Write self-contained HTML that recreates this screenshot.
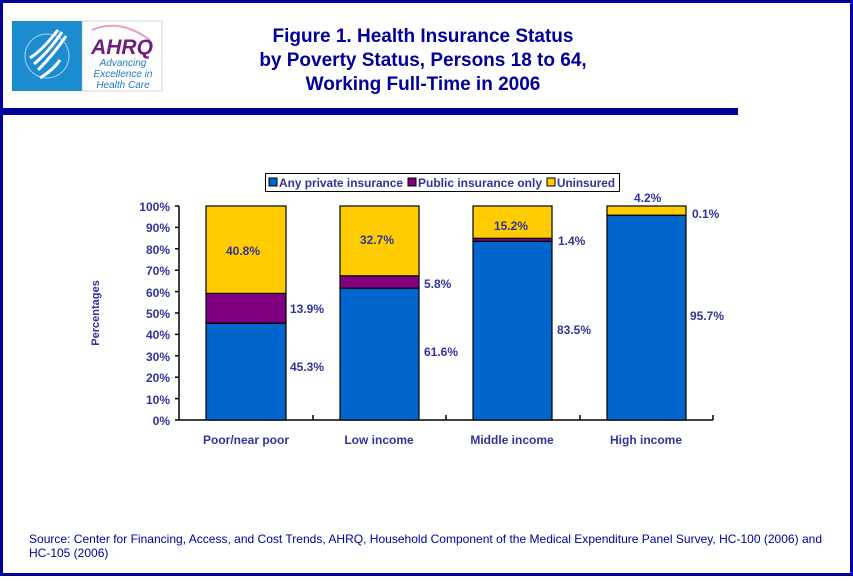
<!DOCTYPE html>
<html><head><style>
body{margin:0;width:853px;height:576px;overflow:hidden;background:#fff;font-family:"Liberation Sans",Arial,sans-serif}
</style></head><body>
<svg width="853" height="576" xmlns="http://www.w3.org/2000/svg" font-family="Liberation Sans, Arial, sans-serif">
<rect x="1.5" y="1.5" width="850" height="573" fill="#fff" stroke="#0000A0" stroke-width="3"/>
<rect x="3" y="108" width="735" height="7" fill="#0000A0"/>
<rect x="12" y="21" width="70" height="70" fill="#1C8CD0"/>
<path d="M38 70 C48 60 58 48 66 36 M34 64 C46 54 54 44 62 32 M30 58 C42 50 50 40 58 30 M40 78 C50 72 56 66 60 60" stroke="#fff" stroke-width="3" fill="none"/>
<circle cx="47" cy="56" r="22" stroke="#fff" stroke-width="1" fill="none" opacity="0.6"/>
<rect x="82" y="21" width="80" height="70" fill="#fff" stroke="#9ab" stroke-width="0.5"/>
<path d="M92 30 Q120 18 150 40" stroke="#e8a0c0" stroke-width="2" fill="none"/>
<text x="122" y="54" text-anchor="middle" font-size="21" font-weight="bold" font-style="italic" fill="#6B1E7E">AHRQ</text>
<text x="123" y="66" text-anchor="middle" font-size="10" font-style="italic" fill="#1C7CC0">Advancing</text>
<text x="123" y="77" text-anchor="middle" font-size="10" font-style="italic" fill="#1C7CC0">Excellence in</text>
<text x="123" y="88" text-anchor="middle" font-size="10" font-style="italic" fill="#1C7CC0">Health Care</text>
<g font-size="19" font-weight="bold" fill="#000099" text-anchor="middle">
<text x="423" y="42">Figure 1. Health Insurance Status</text>
<text x="423" y="66">by Poverty Status, Persons 18 to 64,</text>
<text x="423" y="90">Working Full-Time in 2006</text>
</g>
<rect x="265.5" y="173.5" width="354" height="18" fill="#fff" stroke="#000"/>
<g font-size="12" font-weight="bold" fill="#333399">
<rect x="269" y="178" width="8" height="8" fill="#0066CC" stroke="#000"/><text x="279" y="187" textLength="124" lengthAdjust="spacingAndGlyphs">Any private insurance</text>
<rect x="408" y="178" width="8" height="8" fill="#800080" stroke="#000"/><text x="418" y="187" textLength="124" lengthAdjust="spacingAndGlyphs">Public insurance only</text>
<rect x="547" y="178" width="8" height="8" fill="#FFCC00" stroke="#000"/><text x="557" y="187" textLength="58" lengthAdjust="spacingAndGlyphs">Uninsured</text>
</g>
<g stroke="#000" stroke-width="1.5">
<line x1="179" y1="206" x2="179" y2="420"/>
<line x1="179" y1="420" x2="713" y2="420"/>
<line x1="175" y1="206" x2="179" y2="206"/><line x1="175" y1="227.4" x2="179" y2="227.4"/>
<line x1="175" y1="248.8" x2="179" y2="248.8"/><line x1="175" y1="270.2" x2="179" y2="270.2"/>
<line x1="175" y1="291.6" x2="179" y2="291.6"/><line x1="175" y1="313" x2="179" y2="313"/>
<line x1="175" y1="334.4" x2="179" y2="334.4"/><line x1="175" y1="355.8" x2="179" y2="355.8"/>
<line x1="175" y1="377.2" x2="179" y2="377.2"/><line x1="175" y1="398.6" x2="179" y2="398.6"/>
<line x1="175" y1="420" x2="179" y2="420"/>
<line x1="313" y1="415" x2="313" y2="420"/><line x1="446" y1="415" x2="446" y2="420"/>
<line x1="580" y1="415" x2="580" y2="420"/><line x1="713" y1="415" x2="713" y2="420"/>
</g>
<g font-size="12" font-weight="bold" fill="#333399" text-anchor="end">
<text x="170" y="211">100%</text><text x="170" y="232">90%</text><text x="170" y="254">80%</text>
<text x="170" y="275">70%</text><text x="170" y="297">60%</text><text x="170" y="318">50%</text>
<text x="170" y="339">40%</text><text x="170" y="361">30%</text><text x="170" y="382">20%</text>
<text x="170" y="404">10%</text><text x="170" y="425">0%</text>
</g>
<text transform="translate(99,313) rotate(-90)" text-anchor="middle" font-size="11" font-weight="bold" fill="#333399">Percentages</text>
<g stroke="#000" stroke-width="1.2">
<rect x="206" y="323.1" width="80" height="96.9" fill="#0066CC"/>
<rect x="206" y="293.4" width="80" height="29.7" fill="#800080"/>
<rect x="206" y="206" width="80" height="87.4" fill="#FFCC00"/>
<rect x="340" y="288.2" width="79" height="131.8" fill="#0066CC"/>
<rect x="340" y="275.8" width="79" height="12.4" fill="#800080"/>
<rect x="340" y="206" width="79" height="69.8" fill="#FFCC00"/>
<rect x="473" y="241.3" width="79" height="178.7" fill="#0066CC"/>
<rect x="473" y="238.3" width="79" height="3" fill="#800080"/>
<rect x="473" y="206" width="79" height="32.3" fill="#FFCC00"/>
<rect x="607" y="215.2" width="79" height="204.8" fill="#0066CC"/>
<rect x="607" y="206" width="79" height="9.2" fill="#FFCC00"/>
</g>
<g font-size="12" font-weight="bold" fill="#333399">
<text x="226" y="255">40.8%</text><text x="290" y="313">13.9%</text><text x="290" y="371">45.3%</text>
<text x="360" y="244">32.7%</text><text x="424" y="288">5.8%</text><text x="424" y="356">61.6%</text>
<text x="494" y="230">15.2%</text><text x="558" y="245">1.4%</text><text x="557" y="334">83.5%</text>
<text x="634" y="202">4.2%</text><text x="692" y="218">0.1%</text><text x="690" y="320">95.7%</text>
</g>
<g font-size="12" font-weight="bold" fill="#333399" text-anchor="middle">
<text x="246" y="444">Poor/near poor</text><text x="379" y="444">Low income</text>
<text x="512" y="444">Middle income</text><text x="646" y="444">High income</text>
</g>
<g font-size="12" fill="#000099">
<text x="29" y="543" textLength="793" lengthAdjust="spacingAndGlyphs">Source: Center for Financing, Access, and Cost Trends, AHRQ, Household Component of the Medical Expenditure Panel Survey, HC-100 (2006) and</text>
<text x="29" y="557">HC-105 (2006)</text>
</g>
</svg>
</body></html>
